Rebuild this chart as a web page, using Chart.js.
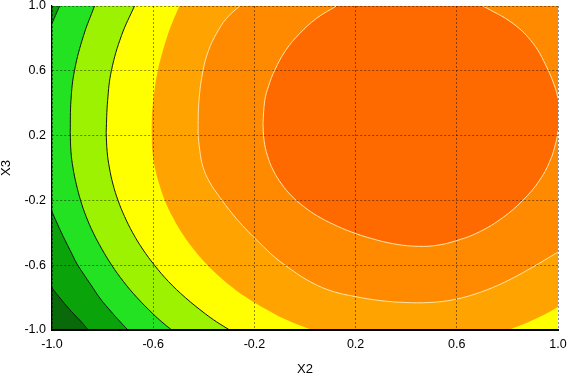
<!DOCTYPE html>
<html><head><meta charset="utf-8">
<script src="https://cdn.jsdelivr.net/npm/chart.js@4/dist/chart.umd.min.js"></script>
<style>html,body{margin:0;padding:0;background:#fff}</style>
</head><body>
<canvas id="c" width="567" height="376"></canvas>
<script>
// axis ticks
const xTicks = [-1.0, -0.6, -0.2, 0.2, 0.6, 1.0];
const yTicks = [-1.0, -0.6, -0.2, 0.2, 0.6, 1.0];
const xMin = -1, xMax = 1, yMin = -1, yMax = 1;

// contour boundaries, [x, y] = [X2, X3]
const c1 = [[-1.000,-0.741],[-0.962,-0.815],[-0.923,-0.886],[-0.887,-0.945],[-0.856,-1.000]];
const c2Corner = [[-1.000,0.893],[-0.986,0.943],[-0.970,1.000]];
const c2 = [[-1.000,-0.270],[-0.982,-0.334],[-0.962,-0.402],[-0.943,-0.463],[-0.923,-0.525],[-0.903,-0.587],[-0.875,-0.655],[-0.846,-0.722],[-0.808,-0.809],[-0.766,-0.887],[-0.733,-0.945],[-0.700,-1.000]];
const c3Upper = [[-0.928,0.220],[-0.925,0.418],[-0.911,0.603],[-0.875,0.819],[-0.832,1.000]];
const c3Lower = [[-0.928,0.220],[-0.925,0.100],[-0.917,0.000],[-0.904,-0.100],[-0.887,-0.200],[-0.865,-0.300],[-0.837,-0.400],[-0.803,-0.500],[-0.764,-0.600],[-0.718,-0.700],[-0.664,-0.800],[-0.601,-0.900],[-0.566,-0.950],[-0.527,-1.000]];
const c4Upper = [[-0.786,0.220],[-0.780,0.418],[-0.765,0.603],[-0.725,0.819],[-0.674,1.000]];
const c4Lower = [[-0.786,0.220],[-0.782,0.100],[-0.773,0.000],[-0.759,-0.100],[-0.739,-0.200],[-0.713,-0.300],[-0.681,-0.400],[-0.642,-0.500],[-0.595,-0.600],[-0.540,-0.700],[-0.473,-0.800],[-0.394,-0.900],[-0.349,-0.950],[-0.298,-1.000]];
const c5Upper = [[-0.607,0.220],[-0.606,0.300],[-0.601,0.400],[-0.593,0.500],[-0.582,0.600],[-0.566,0.700],[-0.547,0.800],[-0.524,0.900],[-0.496,1.000]];
const c5Lower = [[-0.607,0.220],[-0.603,0.100],[-0.593,0.000],[-0.576,-0.100],[-0.554,-0.200],[-0.524,-0.300],[-0.487,-0.400],[-0.441,-0.500],[-0.385,-0.600],[-0.316,-0.700],[-0.231,-0.800],[-0.122,-0.900],[-0.054,-0.950],[0.031,-1.000]];
const c5Corner = [[0.802,-1.000],[0.884,-0.950],[0.952,-0.900],[1.000,-0.856]];
const c6Upper = [[-0.423,0.215],[-0.419,0.418],[-0.403,0.603],[-0.381,0.727],[-0.350,0.830],[-0.310,0.924],[-0.258,1.000]];
const c6Lower = [[-0.423,0.215],[-0.416,0.110],[-0.403,0.005],[-0.377,-0.087],[-0.337,-0.180],[-0.286,-0.285],[-0.234,-0.377],[-0.179,-0.463],[-0.120,-0.550],[-0.052,-0.630],[0.023,-0.704],[0.106,-0.760],[0.197,-0.793],[0.296,-0.818],[0.395,-0.830],[0.494,-0.830],[0.590,-0.812],[0.689,-0.769],[0.790,-0.704],[0.893,-0.618],[1.000,-0.519]];
const c7UpperLeft = [[-0.166,0.275],[-0.159,0.418],[-0.143,0.511],[-0.120,0.603],[-0.076,0.727],[-0.021,0.830],[0.046,0.924],[0.124,1.000]];
const c7UpperRight = [[0.704,1.000],[0.823,0.891],[0.902,0.768],[0.955,0.624],[0.988,0.500],[1.000,0.431]];
const c7Lower = [[-0.166,0.275],[-0.162,0.172],[-0.149,0.079],[-0.126,-0.013],[-0.092,-0.100],[-0.052,-0.174],[-0.005,-0.238],[0.050,-0.297],[0.114,-0.349],[0.185,-0.396],[0.264,-0.436],[0.347,-0.467],[0.426,-0.482],[0.513,-0.479],[0.600,-0.448],[0.691,-0.393],[0.782,-0.306],[0.862,-0.198],[0.925,-0.081],[0.968,0.042],[0.992,0.159],[1.000,0.227]];

// level colours, lowest to highest
const levelColors = ['#086a08', '#0aa30a', '#22e222', '#9cf200', '#ffff00', '#ffa300', '#ff8a00', '#ff6a00'];
const darkLine = '#141414';
const lightLine = '#ffe4a8';

const topEdge = [[xMin, yMax], [xMax, yMax]];
const bottomEdge = [[xMin, yMin], [xMax, yMin]];
const TR = [[xMax, yMax]], BR = [[xMax, yMin]];

// join a contour to the next boundary piece along the plot edge; a tiny step
// keeps the curve's end tangent identical to the drawn contour line
const EPS = 1e-4;
function join(a, b) {
  const p = a[a.length - 1], q = b[0];
  const dir = Math.sign(q[0] - p[0]) || 1;
  return a.concat([[p[0] + dir * EPS, p[1]], [q[0] - dir * EPS, q[1]]], b);
}

const toPts = pts => pts.map(([x, y]) => ({x, y}));
const datasets = [];
function addRegion(upper, lower, level) {
  const order = 100 - level * 10;
  const lowerIndex = datasets.length + 1;
  const base = { pointRadius: 0, pointHoverRadius: 0, tension: 0.4, borderWidth: 0,
    borderColor: 'rgba(0,0,0,0)', order };
  datasets.push(Object.assign({ data: toPts(upper), fill: lowerIndex, backgroundColor: levelColors[level] }, base));
  datasets.push(Object.assign({ data: toPts(lower), fill: false, backgroundColor: 'rgba(0,0,0,0)' }, base));
}
function addLine(curve, color) {
  datasets.push({ data: toPts(curve), fill: false, pointRadius: 0, pointHoverRadius: 0, tension: 0.4,
    borderWidth: 1, borderColor: color, order: 0 });
}
addRegion(topEdge, bottomEdge, 0);
addRegion(topEdge, join(c1, BR), 1);
addRegion(join(c2Corner, TR), join(c2, BR), 2);
addRegion(join(c3Upper, TR), join(c3Lower, BR), 3);
addRegion(join(c4Upper, TR), join(c4Lower, BR), 4);
addRegion(join(c5Upper, TR), join(c5Lower, c5Corner), 5);
addRegion(join(c6Upper, TR), c6Lower, 6);
addRegion(join(c7UpperLeft, c7UpperRight), c7Lower, 7);
[c1, c2Corner, c2, c3Upper, c3Lower, c4Upper, c4Lower].forEach(c => addLine(c, darkLine));
[c6Upper, c6Lower, c7UpperLeft, c7UpperRight, c7Lower].forEach(c => addLine(c, lightLine));

const FONT = '"Liberation Sans", Arial, Helvetica, sans-serif';
function axis(ticksArr, isX) {
  return {
    type: 'linear', min: isX ? xMin : yMin, max: isX ? xMax : yMax,
    afterBuildTicks: s => { s.ticks = ticksArr.map(v => ({value: v})); },
    afterFit: s => {
      if (isX) s.height = 46; else s.width = 52;
      s.paddingLeft = 0; s.paddingRight = 0; s.paddingTop = 0; s.paddingBottom = 0;
    },
    grid: { color: 'rgba(0,0,0,0.45)', lineWidth: 1, drawTicks: false, z: 1 },
    border: { display: true, color: '#000', width: isX ? 2 : 1.2, dash: [2, 2], z: 2 },
    ticks: { padding: isX ? 7 : 6, color: '#000', autoSkip: false, maxRotation: 0,
      font: { family: FONT, size: 12.5 }, callback: v => Number(v).toFixed(1) },
    title: { display: true, text: isX ? 'X2' : 'X3', color: '#000', padding: 0,
      font: { family: FONT, size: 13, lineHeight: 1 } }
  };
}

new Chart(document.getElementById('c'), {
  type: 'line',
  data: { datasets },
  options: {
    responsive: false, animation: false, events: [],
    layout: { padding: { top: 6, right: 9, left: 0, bottom: 0 } },
    plugins: { legend: { display: false }, tooltip: { enabled: false },
      filler: { drawTime: 'beforeDatasetsDraw', propagate: false } },
    scales: { x: axis(xTicks, true), y: axis(yTicks, false) }
  }
});
</script>
</body></html>
